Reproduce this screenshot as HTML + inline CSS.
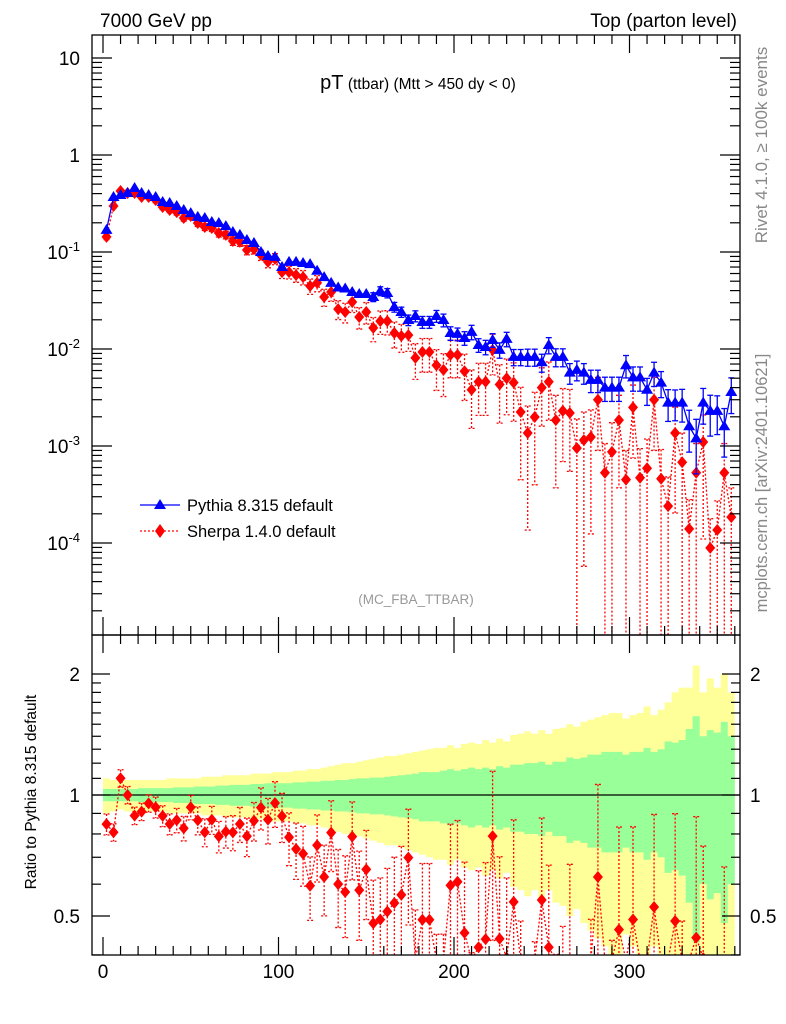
<!DOCTYPE html>
<html><head><meta charset="utf-8">
<style>
html,body{margin:0;padding:0;background:#fff;width:786px;height:1024px;overflow:hidden;}
svg{display:block;font-family:"Liberation Sans",sans-serif;overflow:hidden;}
</style></head>
<body>
<svg id="c" width="786" height="1024" viewBox="0 0 786 1024" xmlns="http://www.w3.org/2000/svg">
<text x="100" y="27" font-size="19">7000 GeV pp</text>
<text x="737" y="27" font-size="19" text-anchor="end">Top (parton level)</text>
<text x="418" y="89" text-anchor="middle"><tspan font-size="20">pT</tspan><tspan font-size="15.5"> (ttbar) (Mtt &gt; 450 dy &lt; 0)</tspan></text>
<text transform="translate(767,145) rotate(-90)" font-size="17" fill="#888" text-anchor="middle">Rivet 4.1.0, ≥ 100k events</text>
<text transform="translate(767,483) rotate(-90)" font-size="16.5" fill="#888" text-anchor="middle">mcplots.cern.ch [arXiv:2401.10621]</text>
<text x="416" y="604" font-size="13.5" fill="#999" text-anchor="middle">(MC_FBA_TTBAR)</text>
<text transform="translate(36,792) rotate(-90)" font-size="15.5" text-anchor="middle">Ratio to Pythia 8.315 default</text>
<g id="ratio"></g>
<g id="main"></g>
<g id="axes"></g>
<g>
<g>
<line x1="140" y1="505" x2="180" y2="505" stroke="#00f" stroke-width="1.3"/>
<path d="M160,499 L166,509 L154,509 Z" fill="#00f"/>
<text x="187" y="511" font-size="16.5">Pythia 8.315 default</text></g>
<g>
<line x1="140" y1="531" x2="180" y2="531" stroke="#f00" stroke-width="1.3" stroke-dasharray="2,2"/>
<path d="M160,524 L165,531 L160,538 L155,531 Z" fill="#f00"/>
<text x="187" y="537" font-size="16.5">Sherpa 1.4.0 default</text></g>
</g>
</svg>
<script>
const binCenters = Array.from({length:90},(_, i)=>2+4*i);
const pythia = [0.169,0.369,0.387,0.406,0.457,0.406,0.387,0.369,0.328,0.320,0.298,0.271,0.252,0.230,0.224,0.204,0.199,0.185,0.161,0.150,0.133,0.124,0.100,0.091,0.089,0.070,0.079,0.079,
0.077,0.075,0.064,0.055,0.048,0.043,0.042,0.0387,0.0369,0.0369,0.0344,0.0396,0.0378,0.0271,0.0241,0.0199,0.0219,0.0190,0.0190,0.0219,0.0199,0.0146,0.0143,0.0130,0.0150,0.0110,0.0105,0.0124,0.0098,0.0127,0.0083,0.0083,
0.0083,0.0083,0.0073,0.0110,0.0083,0.0083,0.0057,0.0061,0.0057,0.0048,0.0048,0.0040,0.0040,0.0040,0.0068,0.0051,0.0051,0.0038,0.0057,0.0045,0.0028,0.0028,0.0028,0.0016,0.0012,0.0028,0.0023,0.0023,0.0016,0.0036];
const sherpa = [0.143,0.298,0.426,0.406,0.406,0.369,0.369,0.344,0.291,0.271,0.258,0.224,0.235,0.199,0.181,0.177,0.157,0.150,0.130,0.127,0.105,0.107,0.093,0.079,0.085,0.062,0.062,0.058,0.055,0.0446,
0.048,0.0344,0.0387,0.0258,0.0241,0.0305,0.0214,0.0241,0.0165,0.0194,0.0194,0.0146,0.0136,0.0139,0.0081,0.0093,0.0093,0.0068,0.0061,0.0087,0.0087,0.0059,0.0038,0.0046,0.0046,0.0098,0.0043,0.0050,0.0045,0.00224,
0.00136,0.00199,0.0040,0.0046,0.00185,0.0023,0.00219,0.00095,0.00115,0.00124,0.0030,0.00053,0.00087,0.00185,0.00045,0.0025,0.00047,0.00059,0.0030,0.00046,0.00024,0.00136,0.00068,0.00014,0.00053,0.0011,0.000089,0.000136,0.00053,0.000185];
const pythiaErr = [0.035,0.035,0.035,0.035,0.035,0.04,0.04,0.04,0.04,0.04,0.045,0.045,0.045,0.05,0.05,0.05,0.055,0.055,0.06,0.06,0.06,0.065,0.065,0.07,0.07,0.07,0.07,0.075,0.075,0.08,
0.08,0.085,0.085,0.09,0.09,0.095,0.1,0.1,0.105,0.105,0.11,0.115,0.12,0.125,0.13,0.14,0.14,0.14,0.15,0.16,0.15,0.16,0.17,0.16,0.17,0.16,0.18,0.17,0.19,0.19,
0.2,0.2,0.21,0.19,0.21,0.21,0.24,0.23,0.24,0.26,0.26,0.28,0.28,0.28,0.26,0.28,0.28,0.31,0.28,0.3,0.36,0.35,0.37,0.46,0.57,0.4,0.45,0.43,0.52,0.4];
const yellowErr = [0.1,0.09,0.08,0.09,0.09,0.09,0.09,0.09,0.09,0.1,0.1,0.1,0.1,0.1,0.11,0.11,0.11,0.12,0.12,0.12,0.12,0.13,0.13,0.13,0.14,0.14,0.14,0.15,0.15,0.16,
0.16,0.17,0.18,0.19,0.2,0.2,0.21,0.22,0.23,0.24,0.25,0.25,0.26,0.27,0.28,0.29,0.3,0.31,0.31,0.33,0.31,0.34,0.35,0.34,0.37,0.35,0.38,0.36,0.41,0.42,
0.44,0.42,0.45,0.42,0.46,0.47,0.5,0.48,0.52,0.54,0.56,0.58,0.6,0.6,0.55,0.58,0.6,0.66,0.58,0.63,0.7,0.8,0.85,0.85,1.1,0.8,0.95,0.85,1.0,0.8];
const sherpaErr = [0.06,0.05,0.05,0.05,0.05,0.05,0.05,0.06,0.06,0.06,0.07,0.07,0.07,0.08,0.08,0.08,0.09,0.09,0.1,0.1,0.11,0.11,0.12,0.13,0.13,0.14,0.15,0.16,0.17,0.18,
0.19,0.2,0.2,0.22,0.23,0.22,0.25,0.25,0.28,0.27,0.28,0.3,0.32,0.32,0.4,0.38,0.38,0.45,0.47,0.42,0.42,0.5,0.6,0.55,0.55,0.45,0.6,0.58,0.6,0.8,
0.9,0.8,0.6,0.6,0.8,0.7,0.75,1,0.95,0.9,0.7,1,1,0.8,1,0.7,1,1,0.7,1,1,0.85,1,1,1,0.9,1,1,1,1];
const mainYTicks = ["10<sup>-4</sup>","10<sup>-3</sup>","10<sup>-2</sup>","10<sup>-1</sup>","1","10"];
const xTickLabels = [0,100,200,300];
const ratioTickLabels = [0.5,1,2];

const NS="http://www.w3.org/2000/svg";
const L=92,R=740,MT=35,MB=635,RT=635,RB=955;
const sx=v=>103+v*1.755;
const sy=v=>155-Math.log10(v)*97;
const ryRaw=v=>v<=0.01?RB+50:795-Math.log2(v)*121;
const ry=v=>Math.min(RB+5,Math.max(RT-5,ryRaw(v)));
function mk(parent,tag,attrs){const e=document.createElementNS(NS,tag);for(const k in attrs)e.setAttribute(k,attrs[k]);parent.appendChild(e);return e;}
const svg=document.getElementById('c');
const defs=mk(svg,'defs',{});
const cp1=mk(defs,'clipPath',{id:'cm'});mk(cp1,'rect',{x:L,y:MT,width:R-L,height:MB-MT});
const cp2=mk(defs,'clipPath',{id:'cr'});mk(cp2,'rect',{x:L,y:RT,width:R-L,height:RB-RT});
const main=document.getElementById('main');main.setAttribute('clip-path','url(#cm)');
const ratio=document.getElementById('ratio');ratio.setAttribute('clip-path','url(#cr)');
const axes=document.getElementById('axes');

function band(arr,color,name){
  let up='',dn='';
  binCenters.forEach((c,i)=>{const x0=sx(c-2),x1=sx(c+2);
    up+=(i?'L':'M')+x0+','+ry(1+arr[i])+'L'+x1+','+ry(1+arr[i]);});
  for(let i=binCenters.length-1;i>=0;i--){const c=binCenters[i];
    dn+='L'+sx(c+2)+','+ry(1-arr[i])+'L'+sx(c-2)+','+ry(1-arr[i]);}
  const p=mk(ratio,'path',{d:up+dn+'Z',fill:color});
  
  
}
band(yellowErr,'#ffff99','yellow-band');
band(pythiaErr,'#99ff99','green-band');
const ref=mk(ratio,'line',{x1:L,x2:R,y1:ry(1),y2:ry(1),stroke:'#000','stroke-width':1.3});



function diamond(g,x,y,name){const p=mk(g,'path',{d:`M${x},${y-6}L${x+5},${y}L${x},${y+6}L${x-5},${y}Z`,fill:'#f00'});
  
  }
function tri(g,x,y,name){const p=mk(g,'path',{d:`M${x},${y-6}L${x+6},${y+4}L${x-6},${y+4}Z`,fill:'#00f'});
  
  }
function errbar(g,x,y1,y2,col,dash){const a={stroke:col,'stroke-width':1.3};if(dash)a['stroke-dasharray']='2,2';
  mk(g,'line',Object.assign({x1:x,x2:x,y1:y1,y2:y2},a));
  mk(g,'line',Object.assign({x1:x-3,x2:x+3,y1:y1,y2:y1},a));
  mk(g,'line',Object.assign({x1:x-3,x2:x+3,y1:y2,y2:y2},a));}

const rg=mk(ratio,'g',{});
let rpath='';
binCenters.forEach((c,i)=>{const r=sherpa[i]/pythia[i];const x=sx(c);
  rpath+=(i?'L':'M')+x+','+ry(r);
  errbar(rg,x,ry(r*(1+sherpaErr[i])),ry(r*(1-sherpaErr[i])),'#f00',true);});
const rl=mk(rg,'path',{d:rpath,fill:'none',stroke:'#f00','stroke-width':1.3,'stroke-dasharray':'2,2'});


binCenters.forEach((c,i)=>{const y=ryRaw(sherpa[i]/pythia[i]);if(y<RB+8)diamond(rg,sx(c),y,'ratio-sherpa-point');});

const sg=mk(main,'g',{});let sp='';
binCenters.forEach((c,i)=>{const x=sx(c),v=sherpa[i];sp+=(i?'L':'M')+x+','+sy(v);
  const lo=v*(1-sherpaErr[i]);errbar(sg,x,sy(v*(1+sherpaErr[i])),lo>1e-6?sy(lo):MB+5,'#f00',true);});
const sl=mk(sg,'path',{d:sp,fill:'none',stroke:'#f00','stroke-width':1.3,'stroke-dasharray':'2,2'});


const pg=mk(main,'g',{});let pp='';
binCenters.forEach((c,i)=>{const x=sx(c),v=pythia[i];pp+=(i?'L':'M')+x+','+sy(v);
  if(pythiaErr[i]>0.1)errbar(pg,x,sy(v*(1+pythiaErr[i])),sy(v*(1-pythiaErr[i])),'#00f',false);});
const pl=mk(pg,'path',{d:pp,fill:'none',stroke:'#00f','stroke-width':1.3});


binCenters.forEach((c,i)=>tri(pg,sx(c),sy(pythia[i]),'pythia-point'));
binCenters.forEach((c,i)=>diamond(sg,sx(c),sy(sherpa[i]),'sherpa-point'));

mk(axes,'rect',{x:L,y:MT,width:R-L,height:MB-MT,fill:'none',stroke:'#000','stroke-width':1.3});
mk(axes,'rect',{x:L,y:RT,width:R-L,height:RB-RT,fill:'none',stroke:'#000','stroke-width':1.3});
const tk={stroke:'#000','stroke-width':1.2};
for(let d=-5;d<=1;d++){for(let m=1;m<10;m++){const v=m*Math.pow(10,d);const y=sy(v);if(y<MT||y>MB)continue;
  const len=m===1?20:10;
  mk(axes,'line',Object.assign({x1:L,x2:L+len,y1:y,y2:y},tk));
  mk(axes,'line',Object.assign({x1:R,x2:R-len,y1:y,y2:y},tk));}}
mainYTicks.forEach((t,k)=>{const d=k-4;const y=sy(Math.pow(10,d));
  const tx=mk(axes,'text',{x:80,y:y+7,'font-size':19,'text-anchor':'end'});
  
  
  if(d===0||d===1){tx.textContent=t;}else{tx.textContent='10';const s=mk(tx,'tspan',{dy:-8,'font-size':13});s.textContent=String(d);}});
for(let v=0;v<=360;v+=10){const x=sx(v);const len=v%100===0?18:9;
  [[MB,-1],[RB,-1],[RT,1]].forEach(([y,dir])=>{mk(axes,'line',Object.assign({x1:x,x2:x,y1:y,y2:y+dir*len},tk));});
  mk(axes,'line',Object.assign({x1:x,x2:x,y1:MT,y2:MT+len},tk));}
xTickLabels.forEach(v=>{const t=mk(axes,'text',{x:sx(v),y:978,'font-size':19,'text-anchor':'middle'});
  
  
  t.textContent=v;});
const rticks=[0.4,0.5,0.6,0.7,0.8,0.9,1,2];
rticks.forEach(v=>{const y=ry(v);const major=(v===0.5||v===1||v===2);const len=major?18:9;
  mk(axes,'line',Object.assign({x1:L,x2:L+len,y1:y,y2:y},tk));
  mk(axes,'line',Object.assign({x1:R,x2:R-len,y1:y,y2:y},tk));});
for(let v=1.1;v<2;v+=0.1){const y=ry(v);
  mk(axes,'line',Object.assign({x1:L,x2:L+9,y1:y,y2:y},tk));
  mk(axes,'line',Object.assign({x1:R,x2:R-9,y1:y,y2:y},tk));}
ratioTickLabels.forEach(v=>{const y=ry(v)+7;
  const a=mk(axes,'text',{x:80,y:y,'font-size':19,'text-anchor':'end'});
  
  
  a.textContent=v;
  const b=mk(axes,'text',{x:750,y:y,'font-size':19});
  
  
  b.textContent=v;});
</script>
</body></html>
